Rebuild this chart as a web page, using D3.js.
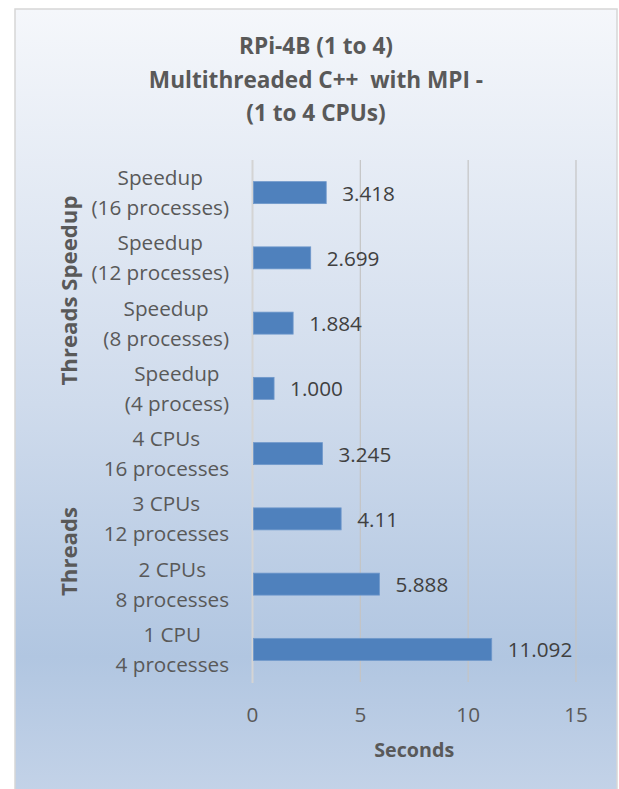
<!DOCTYPE html>
<html><head><meta charset="utf-8">
<script src="https://cdn.jsdelivr.net/npm/d3@7"></script>
<style>body{margin:0;background:#fff}svg{display:block}text{white-space:pre}</style>
</head><body>
<script>
const categories = [
  ["Speedup","(16 processes)"],
  ["Speedup","(12 processes)"],
  ["Speedup","(8 processes)"],
  ["Speedup","(4 process)"],
  ["4 CPUs","16 processes"],
  ["3 CPUs","12 processes"],
  ["2 CPUs","8 processes"],
  ["1 CPU","4 processes"]
];
const values = [3.418, 2.699, 1.884, 1.000, 3.245, 4.11, 5.888, 11.092];
const valueLabels = ["3.418","2.699","1.884","1.000","3.245","4.11","5.888","11.092"];
const groups = [
  {name:"Threads Speedup", from:0, to:3},
  {name:"Threads", from:4, to:7}
];
const xTicks = [0,5,10,15];
const titleLines = ["RPi-4B (1 to 4)","Multithreaded C++  with MPI -","(1 to 4 CPUs)"];
const xTitle = "Seconds";

const W=619,H=789;
const FONT="'Open Sans', 'Noto Sans', sans-serif";
const svg=d3.select("body").append("svg").attr("width",W).attr("height",H);
const defs=svg.append("defs");
const g=defs.append("linearGradient").attr("id","bg").attr("x1",0).attr("y1",0).attr("x2",0).attr("y2",1);
[[0,"#f5f7fb"],[0.5,"#cfdbec"],[0.82,"#b1c6e1"],[1,"#c4d3e8"]].forEach(([o,c])=>g.append("stop").attr("offset",o).attr("stop-color",c));
svg.append("rect").attr("x",15).attr("y",9).attr("width",602).attr("height",790).attr("fill","url(#bg)").attr("stroke","#d6d6d6").attr("stroke-width",1.5);

// title
svg.append("g").selectAll("text").data(titleLines).join("text")
  .attr("x",316).attr("y",(d,i)=>54+i*33.5).attr("text-anchor","middle")
  .attr("font-family",FONT).attr("font-weight","bold").attr("font-size",22.6).attr("fill","#595959").text(d=>d);

const x=d3.scaleLinear().domain([0,15]).range([252.5,576]);
const y=d3.scaleBand().domain(d3.range(categories.length)).range([160,682]);

// gridlines
svg.append("g").selectAll("line").data(xTicks.filter(t=>t>0)).join("line")
  .attr("x1",d=>x(d)).attr("x2",d=>x(d)).attr("y1",160).attr("y2",682)
  .attr("stroke","#c4c4c4").attr("stroke-width",1.2);
// axis line
svg.append("line").attr("x1",x(0)).attr("x2",x(0)).attr("y1",160).attr("y2",683)
  .attr("stroke","#d4d4d4").attr("stroke-width",2);

// bars
const bh=22;
svg.append("g").selectAll("rect").data(values).join("rect")
  .attr("x",x(0)+1).attr("y",(d,i)=>y(i)+y.bandwidth()/2-bh/2)
  .attr("width",d=>x(d)-x(0)-1).attr("height",bh)
  .attr("fill","#4f81bd").attr("stroke","#6f98cb").attr("stroke-width",0.8);

const FS=20.7;
// value labels
svg.append("g").selectAll("text").data(values).join("text")
  .attr("x",d=>x(d)+16).attr("y",(d,i)=>y(i)+y.bandwidth()/2+8)
  .attr("font-family",FONT).attr("font-size",FS).attr("fill","#404040")
  .text((d,i)=>valueLabels[i]);

// category labels
const cg=svg.append("g");
categories.forEach((lines,i)=>{
  const cy=y(i)+y.bandwidth()/2;
  const t=cg.append("text").attr("font-family",FONT).attr("font-size",FS).attr("fill","#595959").attr("text-anchor","middle");
  lines.forEach((l,j)=>t.append("tspan").attr("y",cy-15+j*30+7.5).text(l));
  const ws=[];
  t.selectAll("tspan").each(function(){ws.push(this.getComputedTextLength());});
  const mw=d3.max(ws);
  t.selectAll("tspan").attr("x",229-mw/2);
});

// group labels
groups.forEach(gr=>{
  const cy=(y(gr.from)+y(gr.to)+y.bandwidth())/2;
  svg.append("text").attr("transform",`translate(77,${cy}) rotate(-90)`)
    .attr("text-anchor","middle").attr("font-family",FONT).attr("font-weight","bold")
    .attr("font-size",22.2).attr("fill","#595959").text(gr.name);
});

// x ticks
svg.append("g").selectAll("text").data(xTicks).join("text")
  .attr("x",d=>x(d)).attr("y",721.5).attr("text-anchor","middle")
  .attr("font-family",FONT).attr("font-size",FS).attr("fill","#595959").text(d=>d);
svg.append("text").attr("x",(x(0)+x(15))/2).attr("y",757).attr("text-anchor","middle")
  .attr("font-family",FONT).attr("font-weight","bold").attr("font-size",19.7).attr("fill","#595959").text(xTitle);
</script>
</body></html>
